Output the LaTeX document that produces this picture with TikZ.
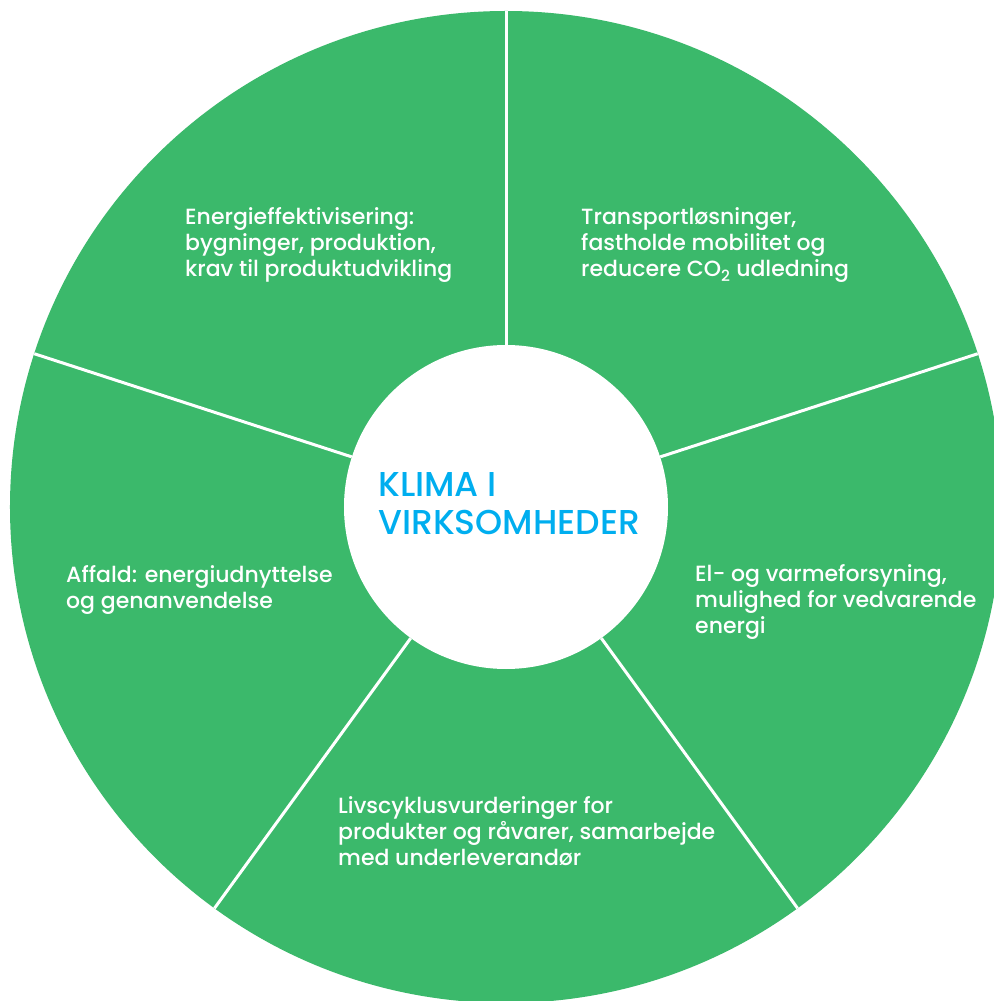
\documentclass[tikz,border=0pt]{standalone}
\usepackage{fontspec}
\setmainfont{Poppins}[UprightFont={* Medium}]
\definecolor{klimagreen}{HTML}{3BB96B}
\definecolor{klimablue}{HTML}{00AEEF}

\begin{document}
\begin{tikzpicture}[x=1pt,y=1pt,
    topic/.style={anchor=base west,align=left,inner sep=0pt,text=white,font=\fontsize{22}{26}\selectfont},
    divider/.style={draw=white,line width=3pt},
    hub/.style={circle,fill=white,minimum size=324pt,inner sep=0pt}]
	\path[use as bounding box,fill=white] (-506,-494) rectangle (487,507);
	\fill[klimagreen] (0,0) circle (496);
	\node[hub] (hub) at (0,0) {};
	% spokes between the five fields
	\foreach \a/\n in {90/a,18/b,-54/c,-126/d,162/e}
		\coordinate (rim\n) at (\a:496);
	\foreach \n in {a,b,c,d,e}
		\draw[divider] (hub) -- (rim\n);
	% base anchor sits on the last line
	\node[anchor=base west,align=left,inner sep=0pt,text=klimablue,font=\fontsize{34.5}{37}\selectfont] (title) at (-128,-27) {KLIMA I\\VIRKSOMHEDER};
	\node[topic] (energi) at (-321,230) {Energieffektivisering:\\bygninger, produktion,\\krav til produktudvikling};
	\node[topic] (transport) at (75,230) {Transportløsninger,\\fastholde mobilitet og\\reducere CO\textsubscript{2} udledning};
	\node[topic] (forsyning) at (189,-126) {El- og varmeforsyning,\\mulighed for vedvarende\\energi};
	\node[topic] (livscyklus) at (-168,-358) {Livscyklusvurderinger for\\produkter og råvarer, samarbejde\\med underleverandør};
	\node[topic] (affald) at (-440,-101) {Affald: energiudnyttelse\\og genanvendelse};
\end{tikzpicture}
\end{document}
